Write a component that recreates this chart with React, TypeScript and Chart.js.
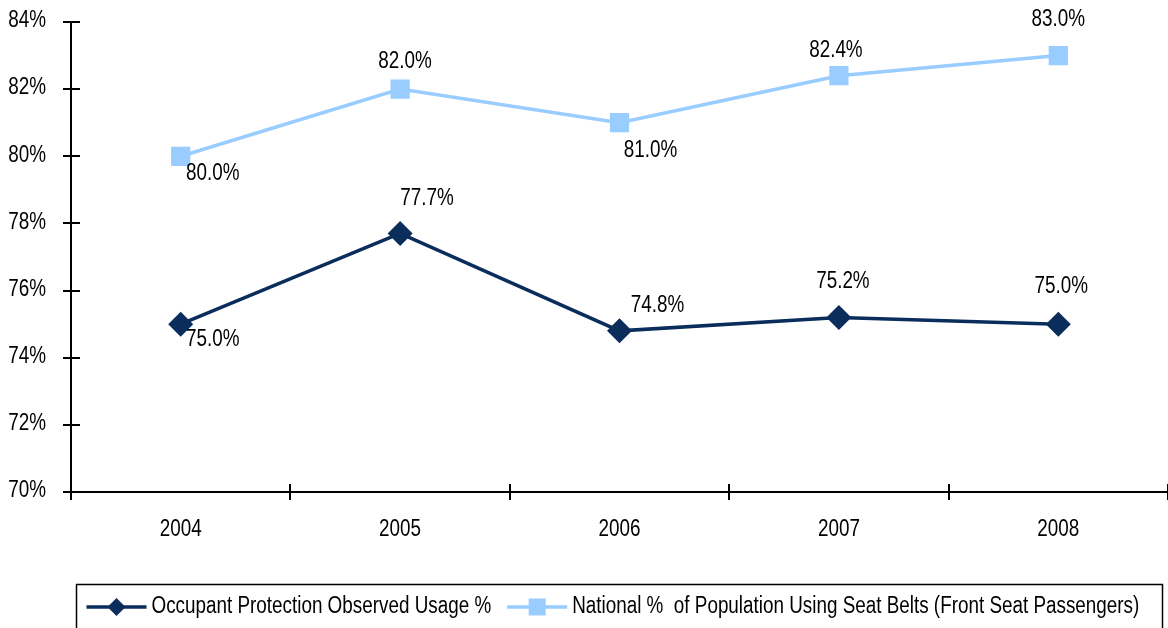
import React, { useEffect, useRef } from "react";
import { Chart, registerables } from "chart.js";

Chart.register(...registerables);

// ---- data ----
const years = ["2004", "2005", "2006", "2007", "2008"];
const occupantUsage = [75.0, 77.7, 74.8, 75.2, 75.0];
const nationalUsage = [80.0, 82.0, 81.0, 82.4, 83.0];
const yTickValues = [70, 72, 74, 76, 78, 80, 82, 84];
const seriesNames = [
  "Occupant Protection Observed Usage %",
  "National %  of Population Using Seat Belts (Front Seat Passengers)",
];

// ---- label placement (pixel offsets of each value label from its point) ----
const occupantLabelOffsets = [[32, 16], [27, -35], [38, -25], [4, -36], [3, -37]];
const nationalLabelOffsets = [[32, 17], [5, -27], [31, 28], [-3, -25], [0, -36]];

// ---- styles ----
const DARK = "#0b2d5b";
const LIGHT = "#99ccff";
const FONT = '"Liberation Sans", Arial, sans-serif';
const FONT_SIZE = 23;
const NARROW = 0.82;

function drawNarrowText(ctx: CanvasRenderingContext2D, text: string, x: number, y: number, align: CanvasTextAlign) {
  ctx.save();
  ctx.font = `${FONT_SIZE}px ${FONT}`;
  ctx.fillStyle = "#000";
  ctx.textAlign = align;
  ctx.textBaseline = "middle";
  ctx.translate(x, y);
  ctx.scale(NARROW, 1);
  ctx.fillText(text, 0, 0);
  ctx.restore();
}

function narrowWidth(ctx: CanvasRenderingContext2D, text: string) {
  ctx.save();
  ctx.font = `${FONT_SIZE}px ${FONT}`;
  const w = ctx.measureText(text).width * NARROW;
  ctx.restore();
  return w;
}

const axesPlugin = {
  id: "axesDecor",
  afterDraw(chart: any) {
    const ctx = chart.ctx;
    const x = chart.scales.x;
    const y = chart.scales.y;
    ctx.save();
    ctx.strokeStyle = "#000";
    ctx.lineWidth = 2;
    ctx.beginPath();
    y.ticks.forEach((t: any) => {
      const py = Math.round(y.getPixelForValue(t.value));
      ctx.moveTo(x.left - 8, py);
      ctx.lineTo(x.left + 9, py);
    });
    for (let i = 0; i <= years.length; i++) {
      const px = Math.round(x.getPixelForValue(i - 0.5));
      ctx.moveTo(px, y.bottom - 8);
      ctx.lineTo(px, y.bottom + 8);
    }
    ctx.stroke();
    ctx.restore();
    // tick labels
    y.ticks.forEach((t: any) => {
      drawNarrowText(ctx, t.value + "%", x.left - 25, y.getPixelForValue(t.value) - 1, "right");
    });
    years.forEach((label, i) => {
      drawNarrowText(ctx, label, x.getPixelForValue(i), y.bottom + 38, "center");
    });
  },
};

const valueLabelsPlugin = {
  id: "valueLabels",
  afterDatasetsDraw(chart: any) {
    const ctx = chart.ctx;
    const offsets = [occupantLabelOffsets, nationalLabelOffsets];
    chart.data.datasets.forEach((ds: any, di: number) => {
      const meta = chart.getDatasetMeta(di);
      meta.data.forEach((pt: any, i: number) => {
        const [dx, dy] = offsets[di][i];
        drawNarrowText(ctx, ds.data[i].toFixed(1) + "%", pt.x + dx, pt.y + dy, "center");
      });
    });
  },
};

const boxLegendPlugin = {
  id: "boxLegend",
  afterDraw(chart: any) {
    const ctx = chart.ctx;
    const boxLeft = 76.5;
    const boxTop = 584.5;
    const boxRight = 1162.5;
    const boxBottom = 660;
    ctx.save();
    ctx.strokeStyle = "#000";
    ctx.lineWidth = 1.5;
    ctx.strokeRect(boxLeft, boxTop, boxRight - boxLeft, boxBottom - boxTop);
    ctx.restore();
    const cy = 607;
    let x = boxLeft + 10;
    chart.data.datasets.forEach((ds: any) => {
      const lineLen = 60;
      ctx.save();
      ctx.strokeStyle = ds.borderColor;
      ctx.lineWidth = 3.5;
      ctx.beginPath();
      ctx.moveTo(x, cy);
      ctx.lineTo(x + lineLen, cy);
      ctx.stroke();
      ctx.fillStyle = ds.backgroundColor;
      const mx = x + lineLen / 2;
      ctx.beginPath();
      if (ds.pointStyle === "rectRot") {
        const r = 9;
        ctx.moveTo(mx - r, cy);
        ctx.lineTo(mx, cy - r);
        ctx.lineTo(mx + r, cy);
        ctx.lineTo(mx, cy + r);
        ctx.closePath();
      } else {
        const h = 8.5;
        ctx.rect(mx - h, cy - h, 2 * h, 2 * h);
      }
      ctx.fill();
      ctx.restore();
      x += lineLen + 5;
      drawNarrowText(ctx, ds.label, x, cy, "left");
      x += narrowWidth(ctx, ds.label) + 16;
    });
  },
};

export default function App() {
  const canvasRef = useRef<HTMLCanvasElement | null>(null);

  useEffect(() => {
    if (!canvasRef.current) return;
    const chart = new Chart(canvasRef.current, {
      type: "line",
      data: {
        labels: years,
        datasets: [
          {
            label: seriesNames[0],
            data: occupantUsage,
            borderColor: DARK,
            backgroundColor: DARK,
            borderWidth: 3.5,
            pointStyle: "rectRot",
            pointRadius: 12.5,
            pointHoverRadius: 12.5,
            pointBorderWidth: 0,
            tension: 0,
          },
          {
            label: seriesNames[1],
            data: nationalUsage,
            borderColor: LIGHT,
            backgroundColor: LIGHT,
            borderWidth: 3.5,
            pointStyle: "rect",
            pointRadius: 13.6,
            pointHoverRadius: 13.6,
            pointBorderWidth: 0,
            tension: 0,
          },
        ],
      } as any,
      options: {
        responsive: false,
        animation: false,
        layout: { autoPadding: false, padding: { top: 22, right: 0, left: 0, bottom: 0 } },
        plugins: { legend: { display: false }, tooltip: { enabled: false } },
        scales: {
          x: {
            offset: true,
            grid: { display: false, drawTicks: false, offset: true },
            border: { display: true, color: "#000", width: 2 },
            ticks: { display: false },
            afterFit: (s: any) => {
              s.height = 136;
            },
          },
          y: {
            min: 70,
            max: 84,
            afterBuildTicks: (s: any) => {
              s.ticks = yTickValues.map((v) => ({ value: v }));
            },
            grid: { display: false, drawTicks: false },
            border: { display: true, color: "#000", width: 2 },
            ticks: { display: false },
            afterFit: (s: any) => {
              s.width = 71;
            },
          },
        },
      } as any,
      plugins: [axesPlugin, valueLabelsPlugin, boxLegendPlugin],
    });
    return () => chart.destroy();
  }, []);

  return (
    <div style={{ position: "fixed", left: 0, top: 0, width: 1168, height: 628, background: "#fff" }}>
      <canvas ref={canvasRef} width={1168} height={628} style={{ display: "block" }} />
    </div>
  );
}
